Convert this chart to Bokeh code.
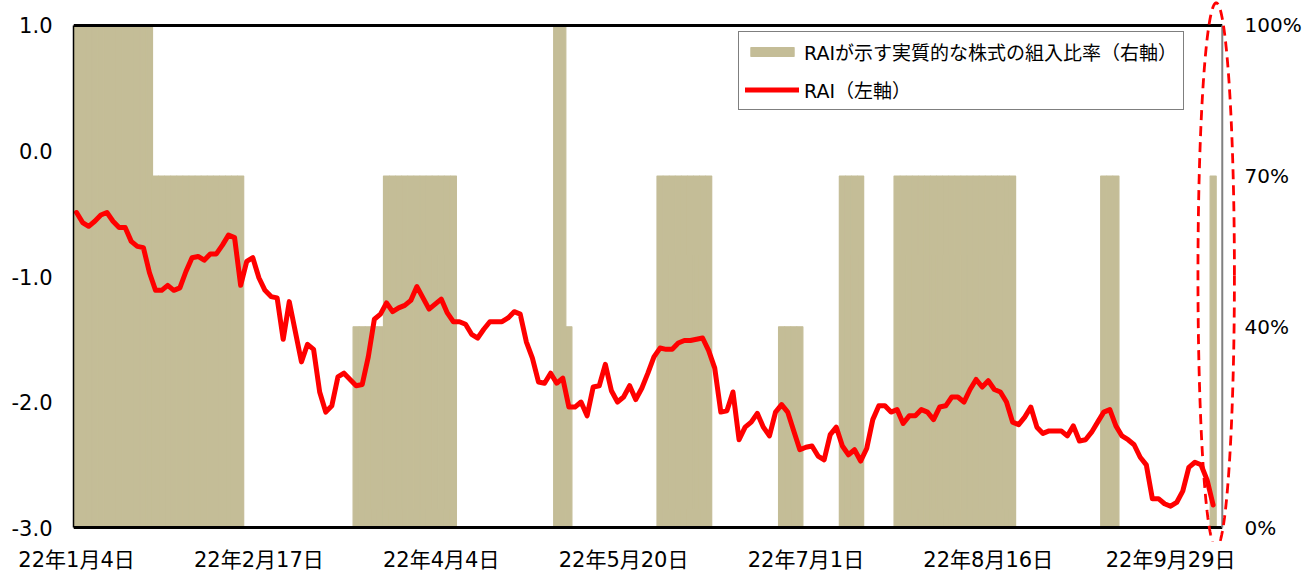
import numpy as np
from bokeh.plotting import figure
from bokeh.models import (Range1d, LinearAxis, FixedTicker, Legend, LegendItem,
                          PolyAnnotation, ColumnDataSource, NumeralTickFormatter)
from bokeh.embed import file_html
from bokeh.resources import INLINE

# ---- data ----
tick_labels = ["22年1月4日", "22年2月17日", "22年4月4日", "22年5月20日",
               "22年7月1日", "22年8月16日", "22年9月29日"]
tick_step = 30  # trading days between labels

rai = [
    -0.49, -0.57, -0.60, -0.56, -0.51, -0.49, -0.56, -0.61, -0.61, -0.72,
    -0.76, -0.77, -0.97, -1.11, -1.11, -1.07, -1.11, -1.09, -0.96, -0.85,
    -0.84, -0.87, -0.82, -0.82, -0.75, -0.67, -0.69, -1.07, -0.88, -0.85,
    -1.01, -1.11, -1.16, -1.17, -1.50, -1.20, -1.44, -1.68, -1.54, -1.58,
    -1.92, -2.08, -2.03, -1.80, -1.77, -1.82, -1.87, -1.86, -1.64, -1.34,
    -1.30, -1.21, -1.28, -1.25, -1.23, -1.19, -1.08, -1.17, -1.26, -1.22,
    -1.18, -1.29, -1.36, -1.36, -1.38, -1.46, -1.49, -1.42, -1.36, -1.36,
    -1.36, -1.33, -1.28, -1.30, -1.52, -1.65, -1.84, -1.85, -1.77, -1.85,
    -1.81, -2.04, -2.04, -2.00, -2.11, -1.88, -1.87, -1.70, -1.91, -2.00,
    -1.96, -1.87, -1.98, -1.89, -1.77, -1.64, -1.57, -1.58, -1.58, -1.53,
    -1.51, -1.51, -1.50, -1.49, -1.59, -1.73, -2.08, -2.07, -1.92, -2.30,
    -2.20, -2.16, -2.09, -2.20, -2.27, -2.08, -2.02, -2.08, -2.23, -2.38,
    -2.36, -2.35, -2.43, -2.46, -2.26, -2.20, -2.35, -2.42, -2.38, -2.47,
    -2.37, -2.14, -2.03, -2.03, -2.08, -2.06, -2.17, -2.11, -2.11, -2.06,
    -2.08, -2.14, -2.04, -2.03, -1.96, -1.96, -2.00, -1.90, -1.82, -1.88,
    -1.83, -1.90, -1.92, -2.00, -2.16, -2.18, -2.12, -2.04, -2.20, -2.25,
    -2.23, -2.23, -2.23, -2.27, -2.19, -2.31, -2.30, -2.24, -2.16, -2.08,
    -2.06, -2.19, -2.27, -2.30, -2.34, -2.44, -2.50, -2.77, -2.77, -2.81,
    -2.83, -2.80, -2.71, -2.52, -2.48, -2.50, -2.62, -2.82,
]

weight = [
    100, 100, 100, 100, 100, 100, 100, 100, 100, 100, 100, 100, 100,
    70, 70, 70, 70, 70, 70, 70, 70, 70, 70, 70, 70, 70, 70, 70,
    0, 0, 0, 0, 0, 0, 0, 0, 0, 0, 0, 0, 0, 0, 0, 0, 0, 0,
    40, 40, 40, 40, 40,
    70, 70, 70, 70, 70, 70, 70, 70, 70, 70, 70, 70,
    0, 0, 0, 0, 0, 0, 0, 0, 0, 0, 0, 0, 0, 0, 0, 0,
    100, 100,
    40,
    0, 0, 0, 0, 0, 0, 0, 0, 0, 0, 0, 0, 0, 0,
    70, 70, 70, 70, 70, 70, 70, 70, 70,
    0, 0, 0, 0, 0, 0, 0, 0, 0, 0, 0,
    40, 40, 40, 40,
    0, 0, 0, 0, 0, 0,
    70, 70, 70, 70,
    0, 0, 0, 0, 0,
    70, 70, 70, 70, 70, 70, 70, 70, 70, 70, 70, 70, 70, 70, 70, 70, 70, 70, 70, 70,
    0, 0, 0, 0, 0, 0, 0, 0, 0, 0, 0, 0, 0, 0,
    70, 70, 70,
    0, 0, 0, 0, 0, 0, 0, 0, 0, 0, 0, 0, 0, 0, 0,
    70,
]

n_slots = len(rai) + 1  # one empty trailing category
x = list(range(len(rai)))
src = ColumnDataSource(dict(x=x, rai=rai, w=weight))

FONT = "DejaVu Sans, 'Noto Sans CJK JP'"
TAN = "#C4BD97"

x_lo, x_end = -0.5, n_slots - 0.5     # plotting area (category slots)
x_pad = 3.0                           # extra room right of the area for the ellipse
y_lo, y_hi = -3.111, 1.199
p = figure(width=1304, height=574, output_backend="svg", toolbar_location=None,
           x_range=Range1d(x_lo, x_end + x_pad), y_range=Range1d(y_lo, y_hi),
           min_border_left=73, min_border_right=64, min_border_top=0, min_border_bottom=0)
p.outline_line_color = None
p.grid.visible = False
p.background_fill_color = "white"
p.extra_y_ranges = {"pct": Range1d((y_lo + 3) * 25, (y_hi + 3) * 25)}

bars = p.vbar(x="x", top="w", bottom=0, width=1, source=src, y_range_name="pct",
              fill_color=TAN, line_color=TAN, line_width=1.2)
line = p.line(x="x", y="rai", source=src, line_color="#FF0000", line_width=5,
              line_join="round", line_cap="round")

# plot-area frame lines (top, bottom black; right grey)
p.segment(x0=[x_lo, x_lo], y0=[1, -3], x1=[x_end, x_end], y1=[1, -3],
          line_color="black", line_width=3)
p.segment(x0=[x_end], y0=[-3], x1=[x_end], y1=[1], line_color="#808080", line_width=2)

# left axis
ya = p.yaxis[0]
ya.ticker = FixedTicker(ticks=[-3, -2, -1, 0, 1])
ya.formatter = NumeralTickFormatter(format="0.0")
ya.bounds = (-3, 1)
ya.axis_line_color = "black"
ya.axis_line_width = 1.5
ya.major_tick_line_color = None
ya.minor_tick_line_color = None
ya.major_tick_out = 0
ya.major_tick_in = 0
ya.major_label_standoff = 21
ya.major_label_text_font = FONT
ya.major_label_text_font_size = "21px"
ya.major_label_text_color = "black"

# right axis
ra = LinearAxis(y_range_name="pct", ticker=FixedTicker(ticks=[0, 40, 70, 100]),
                major_label_overrides={0: "0%", 40: "40%", 70: "70%", 100: "100%"})
ra.axis_line_color = None
ra.major_tick_line_color = None
ra.minor_tick_line_color = None
ra.major_tick_out = 0
ra.major_tick_in = 0
ra.major_label_standoff = 4
ra.major_label_text_font = FONT
ra.major_label_text_font_size = "20px"
ra.major_label_text_color = "black"
p.add_layout(ra, "right")

# bottom axis
xa = p.xaxis[0]
ticks = list(range(0, len(rai), tick_step))[:len(tick_labels)]
xa.ticker = FixedTicker(ticks=ticks)
xa.major_label_overrides = {t: lab for t, lab in zip(ticks, tick_labels)}
xa.axis_line_color = None
xa.major_tick_line_color = None
xa.minor_tick_line_color = None
xa.major_tick_out = 0
xa.major_tick_in = 0
xa.major_label_standoff = 6
xa.major_label_text_font = FONT
xa.major_label_text_font_size = "21px"
xa.major_label_text_color = "black"

# highlight ellipse
t = np.linspace(0, 2 * np.pi, 241)
cx, rx, cy, ry = 187.5, 3.0, -0.99, 2.17
p.add_layout(PolyAnnotation(xs=list(cx + rx * np.cos(t)), ys=list(cy + ry * np.sin(t)),
                            line_color="#FF0000", line_alpha=1, line_width=2.8,
                            line_dash="10 6", fill_alpha=0))

legend = Legend(items=[LegendItem(label="RAIが示す実質的な株式の組入比率（右軸）", renderers=[bars]),
                       LegendItem(label="RAI（左軸）", renderers=[line])],
                location=(665, 431), orientation="vertical")
legend.label_text_font = FONT
legend.label_text_font_size = "19px"
legend.label_text_color = "black"
legend.glyph_width = 54
legend.glyph_height = 11
legend.label_height = 22
legend.label_standoff = 5
legend.padding = 6
legend.spacing = 11
legend.margin = 0
legend.border_line_color = "black"
legend.border_line_width = 1
legend.background_fill_alpha = 1
p.add_layout(legend)

open("out.html", "w").write(file_html(p, INLINE))
